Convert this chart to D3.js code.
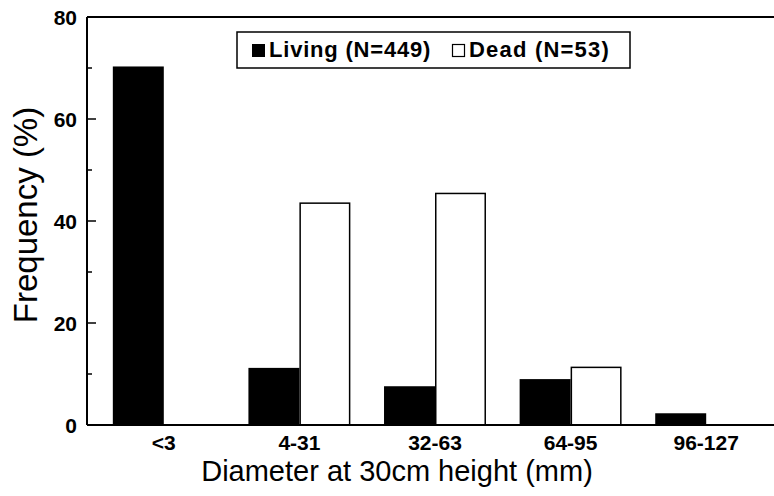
<!DOCTYPE html>
<html>
<head>
<meta charset="utf-8">
<script src="https://cdn.jsdelivr.net/npm/d3@7"></script>
<style>
  body { margin: 0; background: #fff; }
  text { font-family: 'Liberation Sans', Arial, sans-serif; fill: #000; }
</style>
</head>
<body>
<svg id="svg" width="774" height="496"></svg>
<script>
const categories = ['<3', '4-31', '32-63', '64-95', '96-127'];
const seriesNames = ['Living (N=449)', 'Dead (N=53)'];
const living = [70.3, 11.2, 7.6, 9.0, 2.3];
const dead = [0, 43.5, 45.4, 11.3, 0];
const yTicks = [0, 20, 40, 60, 80];
const yMinorTicks = [10, 30, 50, 70];

const margin = { top: 17, right: 0, bottom: 71, left: 87 };
const width = 774;
const height = 496;

const svg = d3.select('#svg');

const y = d3.scaleLinear().domain([0, 80]).range([height - margin.bottom, margin.top]);

const x0 = d3.scaleBand().domain(categories).range([96, 774]).paddingInner(0);
const x1 = d3.scaleBand().domain(['living', 'dead']).range([0, x0.bandwidth()])
  .paddingInner(0).paddingOuter(0.33);

const rows = categories.map((c, i) => ({ cat: c, living: living[i], dead: dead[i] }));

// bars
const g = svg.append('g');
const groups = g.selectAll('g.grp')
  .data(rows)
  .join('g')
  .attr('class', 'grp')
  .attr('transform', d => `translate(${x0(d.cat)},0)`);

groups.append('rect')
  .attr('x', x1('living'))
  .attr('y', d => y(d.living))
  .attr('width', x1.bandwidth())
  .attr('height', d => y(0) - y(d.living))
  .attr('fill', '#000');

groups.append('rect')
  .attr('x', x1('dead') + 0.75)
  .attr('y', d => y(d.dead))
  .attr('width', x1.bandwidth() - 1.5)
  .attr('height', d => y(0) - y(d.dead))
  .attr('fill', '#fff')
  .attr('stroke', '#000')
  .attr('stroke-width', 1.5);

// axes lines
svg.append('line')
  .attr('x1', margin.left).attr('x2', width)
  .attr('y1', y(80)).attr('y2', y(80))
  .attr('stroke', '#000').attr('stroke-width', 2);
svg.append('line')
  .attr('x1', margin.left).attr('x2', width)
  .attr('y1', y(0)).attr('y2', y(0))
  .attr('stroke', '#000').attr('stroke-width', 2);
svg.append('line')
  .attr('x1', margin.left).attr('x2', margin.left)
  .attr('y1', y(80)).attr('y2', y(0))
  .attr('stroke', '#000').attr('stroke-width', 2);

// y ticks (inward)
svg.selectAll('line.ymaj')
  .data(yTicks)
  .join('line')
  .attr('class', 'ymaj')
  .attr('x1', margin.left).attr('x2', margin.left + 9)
  .attr('y1', d => y(d)).attr('y2', d => y(d))
  .attr('stroke', '#000').attr('stroke-width', 1.5);
svg.selectAll('line.ymin')
  .data(yMinorTicks)
  .join('line')
  .attr('class', 'ymin')
  .attr('x1', margin.left).attr('x2', margin.left + 5)
  .attr('y1', d => y(d)).attr('y2', d => y(d))
  .attr('stroke', '#000').attr('stroke-width', 1.5);

svg.selectAll('text.ylab')
  .data(yTicks)
  .join('text')
  .attr('class', 'ylab')
  .attr('x', 77)
  .attr('y', d => y(d))
  .attr('dy', '0.36em')
  .attr('text-anchor', 'end')
  .style('font-size', '21px')
  .style('font-weight', 'bold')
  .text(d => d);

// x tick labels
svg.selectAll('text.xlab')
  .data(categories)
  .join('text')
  .attr('class', 'xlab')
  .attr('x', d => x0(d) + x0.bandwidth() / 2)
  .attr('y', 450)
  .attr('text-anchor', 'middle')
  .style('font-size', '21px')
  .style('font-weight', 'bold')
  .text(d => d);

// axis titles
svg.append('text')
  .attr('x', 397)
  .attr('y', 481)
  .attr('text-anchor', 'middle')
  .style('font-size', '29px')
  .text('Diameter at 30cm height (mm)');

svg.append('text')
  .attr('transform', 'translate(37,215) rotate(-90)')
  .attr('text-anchor', 'middle')
  .style('font-size', '33px')
  .text('Frequency (%)');

// legend
const legend = svg.append('g');
legend.append('rect')
  .attr('x', 237).attr('y', 32).attr('width', 393).attr('height', 36)
  .attr('fill', '#fff').attr('stroke', '#000').attr('stroke-width', 1.5);
legend.append('rect')
  .attr('x', 252).attr('y', 44).attr('width', 13).attr('height', 13)
  .attr('fill', '#000');
legend.append('text')
  .attr('x', 269).attr('y', 57)
  .style('font-size', '22px')
  .style('font-weight', 'bold')
  .style('letter-spacing', '0.8px')
  .text(seriesNames[0]);
legend.append('rect')
  .attr('x', 452.5).attr('y', 44.5).attr('width', 12).attr('height', 12)
  .attr('fill', '#fff').attr('stroke', '#000').attr('stroke-width', 1.2);
legend.append('text')
  .attr('x', 469).attr('y', 57)
  .style('font-size', '22px')
  .style('font-weight', 'bold')
  .style('letter-spacing', '1.2px')
  .text(seriesNames[1]);
</script>
</body>
</html>
